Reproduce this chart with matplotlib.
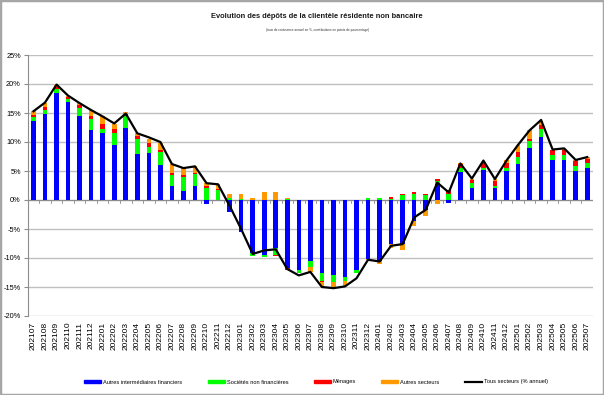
import matplotlib
matplotlib.use("Agg")
import matplotlib.pyplot as plt
import matplotlib.patches as mpatches
from matplotlib.lines import Line2D
from matplotlib.font_manager import fontManager
import numpy as np

months = ["202107","202108","202109","202110","202111","202112",
          "202201","202202","202203","202204","202205","202206",
          "202207","202208","202209","202210","202211","202212",
          "202301","202302","202303","202304","202305","202306",
          "202307","202308","202309","202310","202311","202312",
          "202401","202402","202403","202404","202405","202406",
          "202407","202408","202409","202410","202411","202412",
          "202501","202502","202503","202504","202505","202506","202507"]

autres_if = [13.6, 14.8, 18.4, 16.9, 14.5, 12.1, 11.5, 9.4, 12.5, 8.0, 8.1, 6.0,
             2.5, 1.6, 2.5, -0.7, 0.0, -2.0, -5.6, -9.1, -9.4, -8.2, -11.8, -12.0,
             -10.5, -12.6, -13.0, -13.2, -12.1, -10.2, -10.5, -7.6, -7.6, -3.7, -1.8, 2.7,
             -0.6, 4.9, 2.1, 5.2, 2.1, 5.0, 6.2, 8.9, 10.9, 6.9, 6.9, 5.0, 5.5]
snf = [0.7, 0.7, 0.7, 0.5, 1.4, 1.9, 0.8, 2.1, 2.0, 2.5, 1.0, 2.2,
       1.8, 2.3, 1.9, 2.0, 1.7, 0.4, 0.2, -0.5, -0.5, -1.3, 0.2, -0.5,
       -1.1, -1.3, -1.1, -0.8, -0.5, 0.3, 0.3, 0.2, 0.9, 1.0, 0.8, 0.5,
       1.1, 0.7, 0.9, 0.4, 0.4, 0.5, 1.3, 1.2, 1.3, 0.8, 0.8, 0.9, 0.9]
menages = [0.4, 0.6, 0.4, 0.4, 0.5, 0.4, 0.8, 0.7, 0.4, 0.5, 0.7, 0.5,
           0.4, 0.4, 0.3, 0.5, 0.2, 0.0, 0.0, 0.0, 0.0, -0.2, -0.3, 0.0,
           0.0, -0.2, -0.1, 0.0, 0.0, 0.1, 0.1, 0.3, 0.2, 0.4, 0.3, 0.4,
           0.6, 0.6, 0.4, 0.8, 0.7, 0.8, 0.7, 0.5, 0.7, 0.9, 0.9, 0.9, 0.7]
autres_sect = [0.6, 0.7, 0.3, 0.1, 0.3, 1.1, 1.4, 0.9, 0.2, 0.5, 0.8, 1.1,
               1.5, 1.2, 1.2, 0.4, 0.8, 0.6, 0.8, 0.4, 1.4, 1.3, 0.2, 0.0,
               -0.8, -0.8, -0.8, -0.8, 0.0, -0.1, -0.6, -0.7, -1.0, -0.8, -1.0, -0.7,
               0.0, 0.2, 0.3, 0.2, 0.4, 0.6, 1.3, 1.4, 0.7, 0.1, 0.2, 0.1, 0.3]
tous = [15.3, 16.8, 19.9, 18.0, 16.7, 15.5, 14.4, 13.2, 14.9, 11.5, 10.8, 10.0,
        6.2, 5.5, 5.8, 2.9, 2.7, -1.0, -5.0, -9.3, -8.7, -8.5, -11.9, -13.0,
        -12.4, -15.0, -15.2, -14.9, -13.5, -10.3, -10.6, -7.9, -7.6, -3.0, -1.7, 3.0,
        1.3, 6.3, 3.7, 6.8, 3.6, 6.8, 9.5, 12.0, 13.8, 8.7, 8.9, 6.9, 7.4]

series_names = ["Autres intermédiaires financiers", "Sociétés non financières",
                "Ménages", "Autres secteurs"]
line_name = "Tous secteurs (% annuel)"
title = "Evolution des dépôts de la clientèle résidente non bancaire"
subtitle = "(taux de croissance annuel en %, contributions en points de pourcentage)"

colors = ["#0000FF", "#00FF00", "#FF0000", "#FF9900"]

avail = {f.name for f in fontManager.ttflist}
FONT = "Liberation Sans Narrow" if "Liberation Sans Narrow" in avail else "Liberation Sans"
plt.rcParams["font.family"] = [FONT, "DejaVu Sans"]

W, H = 604, 395
fig = plt.figure(figsize=(W / 100, H / 100), dpi=100)
renderer = fig.canvas.get_renderer()


def size_for(s, target_px, weight="normal", base=10.0):
    t = fig.text(0, 0, s, fontsize=base, weight=weight)
    w = t.get_window_extent(renderer).width
    t.remove()
    return base * target_px / w


left, right = 27.7 / W, 593 / W
bottom, top = 1 - 316 / H, 1 - 55 / H
ax = fig.add_axes([left, bottom, right - left, top - bottom])

x = np.arange(len(months))
data = [np.array(autres_if), np.array(snf), np.array(menages), np.array(autres_sect)]
pos_b = np.zeros(len(months))
neg_b = np.zeros(len(months))
bw = 0.4
for vals, c in zip(data, colors):
    b = np.where(vals >= 0, pos_b, neg_b)
    ax.bar(x, vals, bw, bottom=b, color=c, zorder=2, linewidth=0)
    pos_b = pos_b + np.where(vals >= 0, vals, 0)
    neg_b = neg_b + np.where(vals < 0, vals, 0)

ax.plot(x, tous, color="black", lw=1.6, zorder=3)

ax.set_xlim(-0.5, len(months) - 0.5)
ax.set_ylim(-20, 25)
yt = np.arange(-20, 26, 5)
ax.set_yticks(yt)
ysz = size_for("25%", 15)
ax.set_yticklabels([f"{v}%" for v in yt], fontsize=ysz)
ax.yaxis.grid(True, color="#c0c0c0", lw=1.0)
ax.set_axisbelow(True)
for s in ["top", "right", "bottom"]:
    ax.spines[s].set_visible(False)
ax.spines["left"].set_color("#8c8c8c")
ax.tick_params(axis="y", length=3, color="#8c8c8c", pad=2)

xsz = size_for("202107", 28)
ax.set_xticks(x)
ax.set_xticklabels(months, rotation=90, fontsize=xsz)
ax.tick_params(axis="x", length=0, pad=4)

# zero axis line with category-boundary tick marks
ax.axhline(0, color="#8c8c8c", lw=0.8, zorder=1.5)
bnd = np.arange(len(months) + 1) - 0.5
for bx in bnd:
    ax.plot([bx, bx], [0, -0.5], color="#8c8c8c", lw=0.6, zorder=1.5)

tsz = size_for(title, 213, weight="bold")
fig.text(317 / W, 1 - 16 / H, title, ha="center", va="center",
         fontsize=tsz, weight="bold", color="#1a1a1a")
ssz = size_for(subtitle, 103)
fig.text(318 / W, 1 - 30 / H, subtitle, ha="center", va="center",
         fontsize=ssz, color="#333333")

lsz = size_for(series_names[0], 80)
handles = [mpatches.Patch(color=c, label=n) for c, n in zip(colors, series_names)]
handles.append(Line2D([0], [0], color="black", lw=1.6, label=line_name))
leg = fig.legend(handles=handles, loc="center", bbox_to_anchor=(0.5 + 14 / W, 1 - 382 / H),
                 ncol=5, frameon=False, fontsize=lsz, handlelength=3.0,
                 handleheight=0.6, handletextpad=0.3, columnspacing=4.5)

fig.add_artist(mpatches.Rectangle((0, 0), 1, 1, transform=fig.transFigure,
                                  fill=False, edgecolor="#a6a6a6", lw=2.5))

fig.savefig("out.png", dpi=100)
